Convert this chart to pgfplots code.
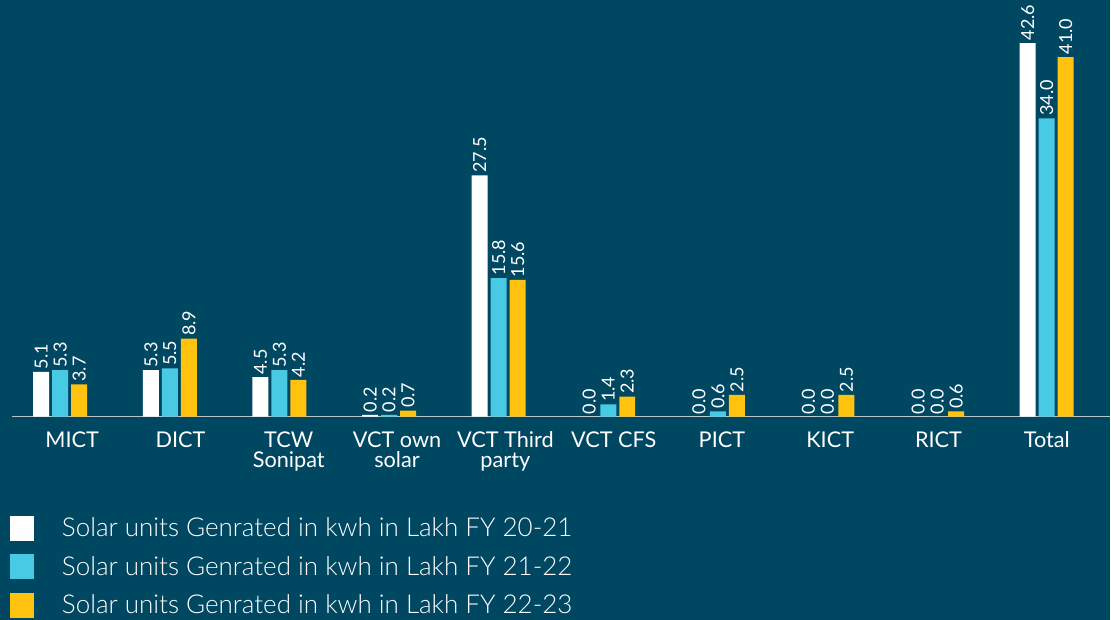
\documentclass[border=0pt]{standalone}
\usepackage{fontspec}
\setmainfont{Lato}
\newfontfamily\latolight{Lato Light}
\usepackage{pgfplots}
\pgfplotsset{compat=1.18}
\definecolor{bg}{HTML}{004761}
\definecolor{cw}{HTML}{FFFFFF}
\definecolor{cc}{HTML}{48C9E4}
\definecolor{cy}{HTML}{FFC20E}
\definecolor{axl}{HTML}{B8C6CC}
\begin{document}
\begin{tikzpicture}[x=1pt,y=1pt]
\fill[bg] (0,0) rectangle (1111,620);
\begin{axis}[
  at={(12pt,203pt)}, anchor=south west,
  scale only axis, width=1099pt, height=395pt,
  xmin=-0.44, xmax=9.58, ymin=0, ymax=45,
  enlargelimits=false, clip=false,
  axis y line=none, axis x line=bottom,
  x axis line style={-, draw=axl, line width=1.5pt},
  ytick=\empty,
  xtick={0.109,1.097,2.085,3.073,4.061,5.049,6.037,7.025,8.013,9.001},
  xticklabels={MICT,DICT,{TCW\\Sonipat},{VCT own\\solar},{VCT Third\\party},VCT CFS,PICT,KICT,RICT,Total},
  major tick length=0pt,
  xticklabel style={font=\fontsize{21.7}{20}\selectfont, text=white, align=center, anchor=north, inner sep=0pt, yshift=-15pt},
  ybar=3pt, bar width=16pt,
  nodes near coords={\pgfmathprintnumber[fixed,fixed zerofill,precision=1,assume math mode=true]{\pgfplotspointmeta}},
  nodes near coords style={rotate=90, anchor=west, inner sep=2.5pt, font=\fontsize{18}{18}\selectfont, text=white},
  legend style={at={(rel axis cs:-0.0018,-0.251)}, anchor=north west, draw=none, fill=none, text=white,
    font=\latolight\fontsize{26}{26}\selectfont, inner sep=0pt, outer sep=0pt, row sep=13.5pt,
    nodes={inner sep=0pt}},
  legend cell align=left,
  sqleg/.style={legend image code/.code={\fill[##1] (0pt,-12.5pt) rectangle (24pt,12.5pt); \path[draw=none,fill=none] (0pt,0pt) rectangle (52pt,0.1pt);}},
]
\addplot[draw=none, fill=cw, sqleg] coordinates {(0,5.1) (1,5.3) (2,4.5) (3,0.2) (4,27.5) (5,0.0) (6,0.0) (7,0.0) (8,0.0) (9,42.6)};
\addplot[draw=none, fill=cc, sqleg] coordinates {(0,5.3) (1,5.5) (2,5.3) (3,0.2) (4,15.8) (5,1.4) (6,0.6) (7,0.0) (8,0.0) (9,34.0)};
\addplot[draw=none, fill=cy, sqleg] coordinates {(0,3.7) (1,8.9) (2,4.2) (3,0.7) (4,15.6) (5,2.3) (6,2.5) (7,2.5) (8,0.6) (9,41.0)};
\legend{Solar units Genrated in kwh in Lakh FY 20-21, Solar units Genrated in kwh in Lakh FY 21-22, Solar units Genrated in kwh in Lakh FY 22-23}
\end{axis}
\end{tikzpicture}
\end{document}
